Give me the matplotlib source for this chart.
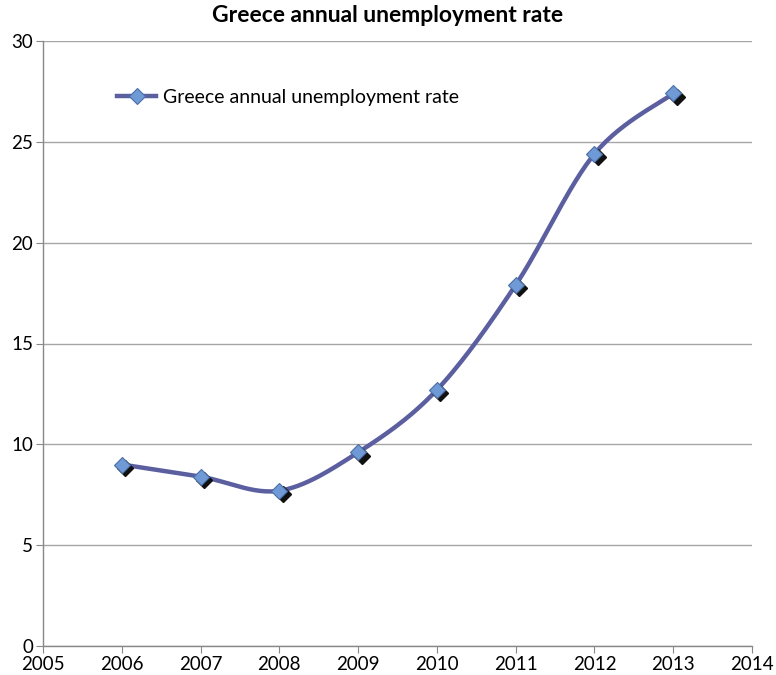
import numpy as np
import matplotlib
matplotlib.use("Agg")
import matplotlib.pyplot as plt
import matplotlib.transforms as mtransforms
from matplotlib.lines import Line2D

years = [2006, 2007, 2008, 2009, 2010, 2011, 2012, 2013]
rate = [9.0, 8.4, 7.7, 9.6, 12.7, 17.9, 24.4, 27.4]
series_name = "Greece annual unemployment rate"
title = "Greece annual unemployment rate"

plt.rcParams['font.family'] = ['Lato', 'DejaVu Sans']

def smooth(xs, ys, n=30):
    # Catmull-Rom style Bezier smoothing (like Excel smoothed lines)
    xs = np.asarray(xs, float); ys = np.asarray(ys, float)
    px, py = [], []
    for i in range(len(xs) - 1):
        x0, y0 = (xs[i-1], ys[i-1]) if i > 0 else (xs[i], ys[i])
        x1, y1 = xs[i], ys[i]
        x2, y2 = xs[i+1], ys[i+1]
        x3, y3 = (xs[i+2], ys[i+2]) if i + 2 < len(xs) else (xs[i+1], ys[i+1])
        c1x, c1y = x1 + (x2 - x0) / 6, y1 + (y2 - y0) / 6
        c2x, c2y = x2 - (x3 - x1) / 6, y2 - (y3 - y1) / 6
        t = np.linspace(0, 1, n)
        bx = (1-t)**3*x1 + 3*(1-t)**2*t*c1x + 3*(1-t)*t**2*c2x + t**3*x2
        by = (1-t)**3*y1 + 3*(1-t)**2*t*c1y + 3*(1-t)*t**2*c2y + t**3*y2
        px.extend(bx); py.extend(by)
    return np.array(px), np.array(py)

fig = plt.figure(figsize=(7.76, 6.75), dpi=100)
ax = fig.add_axes([43/776, 1-646/675, (752-43)/776, (646-41)/675])

ax.set_xlim(2005, 2014)
ax.set_ylim(0, 30)
ax.set_xticks(range(2005, 2015))
ax.set_yticks(range(0, 31, 5))
ax.yaxis.grid(True, color='#A6A6A6', linewidth=1.0)
ax.set_axisbelow(True)
for s in ['top', 'right']:
    ax.spines[s].set_visible(False)
for s in ['left', 'bottom']:
    ax.spines[s].set_color('#888888')
    ax.spines[s].set_linewidth(1.0)
ax.tick_params(axis='both', colors='#888888', labelcolor='#000000', labelsize=13.5,
               length=5, direction='out', pad=2)

lc = '#5B5FA0'
sx, sy = smooth(years, rate)
ax.plot(sx, sy, color=lc, linewidth=3.2, solid_capstyle='round', zorder=3)

shadow_tr = mtransforms.offset_copy(ax.transData, fig=fig, x=2.5, y=-2.5, units='points')
ax.plot(years, rate, linestyle='none', marker='D', markersize=8, color='#111111',
        markeredgecolor='#111111', transform=shadow_tr, zorder=4)
ax.plot(years, rate, linestyle='none', marker='D', markersize=8, color='#6F9AD6',
        markeredgecolor='#4A6FA8', markeredgewidth=0.8, zorder=5)

handle = Line2D([], [], color=lc, linewidth=3.2, marker='D', markersize=8,
                markerfacecolor='#6F9AD6', markeredgecolor='#4A6FA8', markeredgewidth=0.8)
ax.legend([handle], [series_name], loc='upper left', bbox_to_anchor=(0.08, 0.95),
          frameon=False, fontsize=14, handlelength=2.0, handletextpad=0.35)

fig.text(0.5, 1-16/675, title, ha='center', va='center', fontsize=16.5, fontweight='bold')

fig.savefig('out.png', dpi=100)
